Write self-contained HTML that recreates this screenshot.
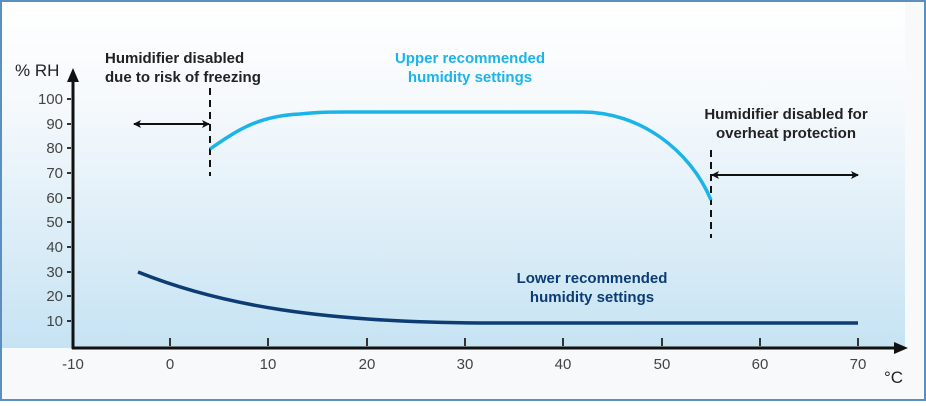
<!DOCTYPE html>
<html><head><style>
body{margin:0;background:#fff}
</style></head><body>
<svg width="926" height="401" xmlns="http://www.w3.org/2000/svg" font-family="Liberation Sans, sans-serif">
<defs>
<linearGradient id="g" x1="0" y1="0" x2="0" y2="1">
<stop offset="0" stop-color="#ffffff"/>
<stop offset="0.3" stop-color="#f5f9fc"/>
<stop offset="1" stop-color="#c6e3f3"/>
</linearGradient>
<marker id="ah" markerWidth="8" markerHeight="8" refX="7" refY="4" orient="auto-start-reverse" markerUnits="userSpaceOnUse"><path d="M0,0 L8,4 L0,8 L2,4z" fill="#111"/></marker>
</defs>
<rect x="0" y="0" width="926" height="401" fill="#5a8fc0"/>
<rect x="2" y="2" width="922" height="397" fill="#f7f9fb"/>
<rect x="2" y="2" width="903" height="346" fill="url(#g)"/>
<!-- axes -->
<line x1="73" y1="349" x2="73" y2="80" stroke="#111" stroke-width="3"/>
<path d="M67,82 L73,68 L79,82z" fill="#111"/>
<line x1="72" y1="348" x2="896" y2="348" stroke="#111" stroke-width="3"/>
<path d="M894,342 L908,348 L894,354z" fill="#111"/>
<g stroke="#333" stroke-width="2">
<line x1="67" y1="99" x2="71" y2="99"/><line x1="67" y1="124" x2="71" y2="124"/><line x1="67" y1="148" x2="71" y2="148"/><line x1="67" y1="173" x2="71" y2="173"/><line x1="67" y1="198" x2="71" y2="198"/><line x1="67" y1="222" x2="71" y2="222"/><line x1="67" y1="247" x2="71" y2="247"/><line x1="67" y1="272" x2="71" y2="272"/><line x1="67" y1="296" x2="71" y2="296"/><line x1="67" y1="321" x2="71" y2="321"/>
<line x1="170" y1="338" x2="170" y2="346"/><line x1="268" y1="338" x2="268" y2="346"/><line x1="367" y1="338" x2="367" y2="346"/><line x1="465" y1="338" x2="465" y2="346"/><line x1="563" y1="338" x2="563" y2="346"/><line x1="662" y1="338" x2="662" y2="346"/><line x1="760" y1="338" x2="760" y2="346"/><line x1="858" y1="338" x2="858" y2="346"/>
</g>
<g font-size="15" fill="#444" text-anchor="end">
<text x="63" y="104">100</text><text x="63" y="129">90</text><text x="63" y="153">80</text><text x="63" y="178">70</text><text x="63" y="203">60</text><text x="63" y="227">50</text><text x="63" y="252">40</text><text x="63" y="277">30</text><text x="63" y="301">20</text><text x="63" y="326">10</text>
</g>
<g font-size="15" fill="#444" text-anchor="middle">
<text x="73" y="369">-10</text><text x="170" y="369">0</text><text x="268" y="369">10</text><text x="367" y="369">20</text><text x="465" y="369">30</text><text x="563" y="369">40</text><text x="662" y="369">50</text><text x="760" y="369">60</text><text x="858" y="369">70</text>
</g>
<text x="15" y="76" font-size="17" fill="#222">% RH</text>
<text x="884" y="383" font-size="17" fill="#222">°C</text>
<!-- dashed -->
<line x1="210" y1="88" x2="210" y2="176" stroke="#111" stroke-width="2" stroke-dasharray="7,5"/>
<line x1="711" y1="150" x2="711" y2="238" stroke="#111" stroke-width="2" stroke-dasharray="7,5"/>
<line x1="134" y1="124" x2="209" y2="124" stroke="#111" stroke-width="2" marker-start="url(#ah)" marker-end="url(#ah)"/>
<line x1="712" y1="175" x2="858" y2="175" stroke="#111" stroke-width="2" marker-start="url(#ah)" marker-end="url(#ah)"/>
<!-- curves -->
<path d="M210,149 C240,128 260,116 300,114 C320,112 330,112 345,112 L582,112 C640,112 690,150 711,200" fill="none" stroke="#1ab4e8" stroke-width="3.5"/>
<path d="M138,272 C220,305 320,322 480,323 L858,323" fill="none" stroke="#0c3c73" stroke-width="3.5"/>
<!-- labels -->
<g font-size="15" font-weight="bold">
<text x="105" y="63" fill="#222">Humidifier disabled</text>
<text x="105" y="82" fill="#222">due to risk of freezing</text>
<text x="470" y="63" fill="#1ab4e8" text-anchor="middle">Upper recommended</text>
<text x="470" y="82" fill="#1ab4e8" text-anchor="middle">humidity settings</text>
<text x="786" y="119" fill="#222" text-anchor="middle">Humidifier disabled for</text>
<text x="786" y="138" fill="#222" text-anchor="middle">overheat protection</text>
<text x="592" y="283" fill="#0c3c73" text-anchor="middle">Lower recommended</text>
<text x="592" y="302" fill="#0c3c73" text-anchor="middle">humidity settings</text>
</g>
</svg>
</body></html>
